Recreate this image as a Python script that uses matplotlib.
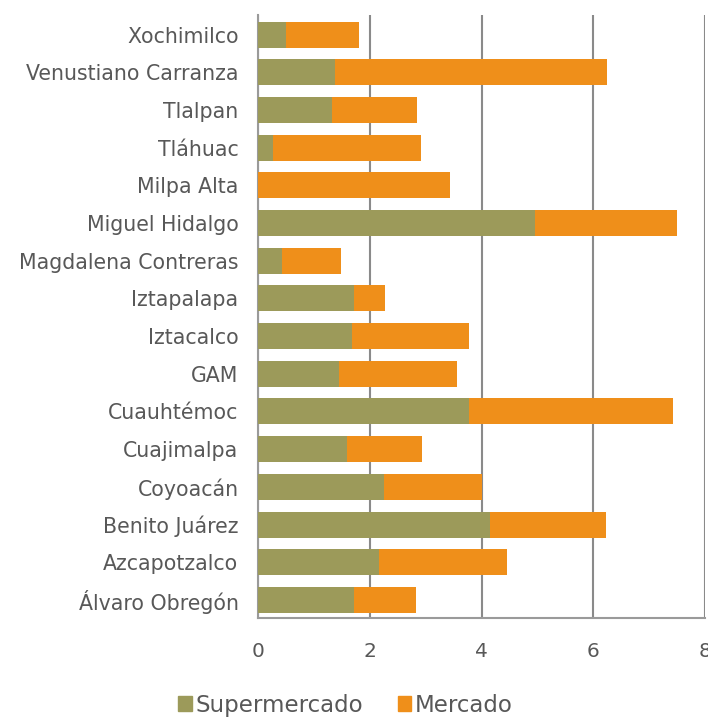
import numpy as np
import matplotlib.pyplot as plt
from matplotlib.patches import Patch

# Datos (de abajo hacia arriba)
alcaldias = ['Álvaro Obregón', 'Azcapotzalco', 'Benito Juárez', 'Coyoacán',
             'Cuajimalpa', 'Cuauhtémoc', 'GAM', 'Iztacalco', 'Iztapalapa',
             'Magdalena Contreras', 'Miguel Hidalgo', 'Milpa Alta', 'Tláhuac',
             'Tlalpan', 'Venustiano Carranza', 'Xochimilco']
supermercado = [1.71, 2.17, 4.16, 2.26, 1.60, 3.78, 1.45, 1.68, 1.72,
                0.43, 4.96, 0.0, 0.27, 1.32, 1.38, 0.50]
mercado = [1.11, 2.29, 2.06, 1.75, 1.34, 3.65, 2.12, 2.09, 0.55,
           1.05, 2.54, 3.44, 2.65, 1.52, 4.87, 1.30]
xticks = [0, 2, 4, 6, 8]

verde = '#9c9a5a'
naranja = '#ef8f1a'
gris_texto = '#585858'
gris_linea = '#8a8a8a'

plt.rcParams['font.family'] = ['DejaVu Sans']

fig = plt.figure(figsize=(7.08, 7.18), dpi=100)
ax = fig.add_axes([0.3644, 0.1393, 0.6314, 0.8398])

y = np.arange(len(alcaldias))
ax.barh(y, supermercado, height=0.69, color=verde, zorder=3)
ax.barh(y, mercado, left=supermercado, height=0.69, color=naranja, zorder=3)

ax.set_xlim(0, 8)
ax.set_ylim(-0.48, 15.52)
ax.set_xticks(xticks)
ax.set_yticks(y)
ax.set_yticklabels(alcaldias)
ax.tick_params(axis='both', length=0, labelcolor=gris_texto, labelsize=14.8)
ax.tick_params(axis='y', pad=14)
ax.tick_params(axis='x', pad=17, labelsize=14.5)

ax.grid(axis='x', color=gris_linea, linewidth=1.5, zorder=0)
for lado in ['top', 'right']:
    ax.spines[lado].set_visible(False)
for lado in ['left', 'bottom']:
    ax.spines[lado].set_color('#9a9a9a')
    ax.spines[lado].set_linewidth(1.5)

handles = [Patch(color=verde, label='Supermercado'),
           Patch(color=naranja, label='Mercado')]
fig.legend(handles=handles, loc='center', bbox_to_anchor=(0.488, 0.018),
           ncol=2, frameon=False, fontsize=16.5, labelcolor=gris_texto,
           handlelength=0.6, handleheight=0.6, handletextpad=0.15,
           columnspacing=1.5)

fig.savefig('out.png', dpi=100)
